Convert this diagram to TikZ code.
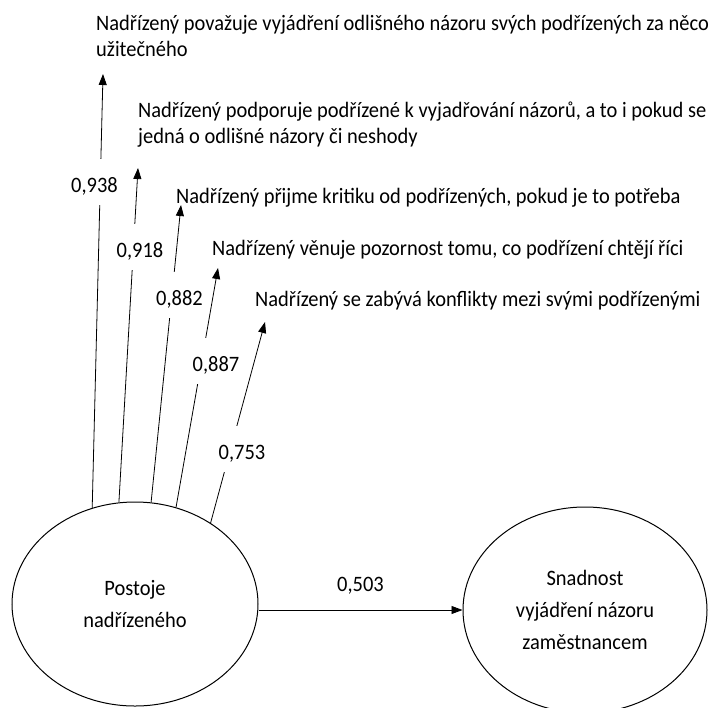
\documentclass[tikz,border=0pt]{standalone}
\usepackage{fontspec}
\setmainfont{Carlito}[FakeStretch=0.93]
\usetikzlibrary{arrows.meta,positioning,shapes.geometric}

\begin{document}
\begin{tikzpicture}[
  x=1pt, y=-1pt,
  every node/.style={font=\fontsize{22}{26}\selectfont},
  construct/.style={draw, ellipse, line width=1pt, inner sep=0pt, align=center,
    font=\fontsize{22}{32}\selectfont},
  indicator/.style={anchor=base west, align=left, inner sep=0pt},
  loading/.style={fill=white, inner xsep=2pt, inner ysep=12.5pt, text height=21pt, text depth=0pt},
  link/.style={-{Triangle[length=11pt,width=8pt]}, line width=0.8pt}
]
  \useasboundingbox (0,0) rectangle (709,707);

  \node[construct, minimum width=246pt, minimum height=204pt] (boss) at (135,604) {Postoje\\nadřízeného};
  \node[construct, minimum width=244pt, minimum height=206pt] (voice) at (585,610) {Snadnost\\vyjádření názoru\\zaměstnancem};

  % base of a two-line node is its last line
  \node[indicator] (ind1) at (96,56) {Nadřízený považuje vyjádření odlišného názoru svých podřízených za něco\\užitečného};
  \node[indicator] (ind2) at (138,143) {Nadřízený podporuje podřízené k vyjadřování názorů, a to i pokud se\\jedná o odlišné názory či neshody};
  \node[indicator] (ind3) at (176,203) {Nadřízený přijme kritiku od podřízených, pokud je to potřeba};
  \node[indicator] (ind4) at (212,255) {Nadřízený věnuje pozornost tomu, co podřízení chtějí říci};
  \node[indicator] (ind5) at (255,306) {Nadřízený se zabývá konflikty mezi svými podřízenými};

  \coordinate (tip1) at (103,74);
  \coordinate (tip2) at (138,168);
  \coordinate (tip3) at (181,205);
  \coordinate (tip4) at (218,268);
  \coordinate (tip5) at (265,322);

  % loadings
  \foreach \n/\a/\lx/\ly/\val in {1/114.5/94.5/181.5/{0,938}, 2/99/140/246.5/{0,918},
      3/81/179.5/295/{0,882}, 4/67.5/216/360.5/{0,887}, 5/47.5/242/449/{0,753}}{
    \draw[link] (boss.\a) -- (tip\n);
    \node[loading] (w\n) at (\lx,\ly) {\val};
  }

  \draw[link] (voice.west -| boss.east) -- (voice.west)
    node[midway, above=12pt] (path) {0,503};
\end{tikzpicture}
\end{document}
